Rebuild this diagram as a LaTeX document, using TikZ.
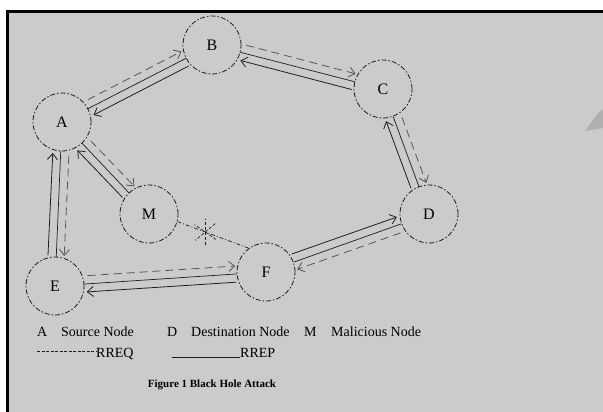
\documentclass[tikz,border=0pt]{standalone}
\usepackage{fontspec}
\setmainfont{Liberation Serif}
\usetikzlibrary{arrows.meta,calc}

\definecolor{paper}{HTML}{CBCBCB}
\definecolor{ink}{HTML}{1E1E1E}
\definecolor{faint}{HTML}{B0B0B0}

\begin{document}
\begin{tikzpicture}[x=1pt,y=-1pt,
    host/.style={circle, draw=ink, line width=0.8pt,
        dash pattern=on 5pt off 2pt on 1.5pt off 2pt,
        minimum size=58pt, inner sep=0pt, font=\fontsize{16}{16}\selectfont},
    link/.style={ink, line width=0.7pt},
    rreq/.style={ink!75, line width=0.8pt, dash pattern=on 8pt off 5pt,
        -{Straight Barb[length=6pt,width=10pt]}, shorten <=5pt, shorten >=2pt},
    rrep/.style={ink, line width=0.8pt,
        -{Straight Barb[length=6pt,width=10pt]}, shorten <=2pt, shorten >=3pt},
    key/.style={font=\fontsize{14}{14}\selectfont, anchor=base west, inner sep=0pt}]

\useasboundingbox (0,0) rectangle (603,412);

% Frame
\fill[white] (0,0) rectangle (603,412);
\fill[paper] (7.5,11.3) rectangle (603,412);
\draw[black, line width=3.5pt] (7.5,412) -- (7.5,11.3) -- (603,11.3);
\fill[faint] (585,131) -- (598,113) -- (603,109) -- (603,128) -- cycle;

% Hosts
\node[host] (A) at (62,122) {A};
\node[host] (B) at (212,45) {B};
\node[host] (C) at (383,89) {C};
\node[host] (D) at (429,214) {D};
\node[host] (M) at (149,214) {M};
\node[host] (F) at (266,272) {F};
\node[host] (E) at (55,286) {E};

% Links with request (left side) and reply (right side)
\foreach \u/\v/\t in {A/B/27, B/C/-14, C/D/-70, D/F/200, A/E/-92, E/F/4, A/M/-47}{
    \pgfmathtruncatemacro\qa{\t+16}
    \pgfmathtruncatemacro\qb{\t+164}
    \pgfmathtruncatemacro\pa{\t-16}
    \pgfmathtruncatemacro\pb{\t+196}
    \draw[link] (\u) -- (\v);
    \draw[rreq] (\u.\qa) -- (\v.\qb);
    \draw[rrep] (\v.\pb) -- (\u.\pa);
}

% Broken link M--F
\draw[link, dash pattern=on 4pt off 2pt on 1pt off 2pt]
    (M.-15) -- coordinate[pos=0.39] (cut) (F.126);
\foreach \a in {90,35,-40}
    \draw[link, densely dashed] ($(cut)+(\a:13)$) -- ($(cut)+(\a+180:13)$);

% Key
\node[key] (kA) at (37,336) {A};
\node[key] (kAn) at (61,336) {Source Node};
\node[key] (kD) at (167,336) {D};
\node[key] (kDn) at (191,336) {Destination Node};
\node[key] (kM) at (304,336) {M};
\node[key] (kMn) at (331,336) {Malicious Node};
\node[key] (kq) at (96,357) {RREQ};
\node[key] (kp) at (240,357) {RREP};
\coordinate (q0) at (37,351);
\coordinate (p0) at (172,357);
\draw[ink, line width=0.8pt, dash pattern=on 3pt off 1.5pt] (q0) -- (q0 -| kq.west);
\draw[ink, line width=0.8pt] (p0) -- (kp.base west);

\node[font=\bfseries\fontsize{11}{11}\selectfont, anchor=base] (cap) at (212,387)
    {Figure 1 Black Hole Attack};

\end{tikzpicture}
\end{document}
